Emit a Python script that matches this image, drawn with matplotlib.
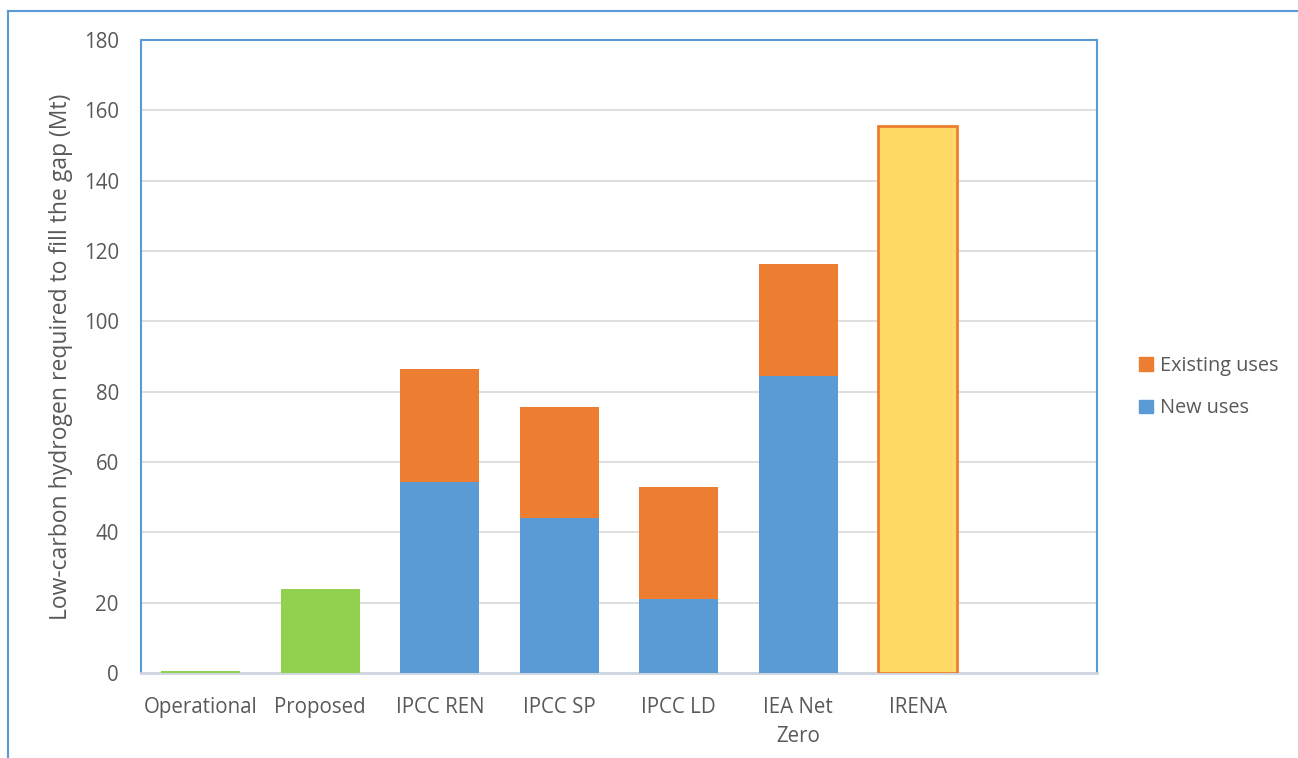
import numpy as np
import matplotlib
matplotlib.use("Agg")
import matplotlib.pyplot as plt
from matplotlib.lines import Line2D
from matplotlib.patches import Patch

plt.rcParams['font.family'] = ['Open Sans', 'DejaVu Sans']

categories = ['Operational', 'Proposed', 'IPCC REN', 'IPCC SP', 'IPCC LD',
              'IEA Net\nZero', 'IRENA']
# project pipeline (green)
pipeline = [0.7, 24.0, 0, 0, 0, 0, 0]
# scenario demand split
new_uses = [0, 0, 54.4, 44.0, 21.1, 84.5, 0]
existing_uses = [0, 0, 32.0, 31.5, 31.9, 31.8, 0]
# IRENA total only
irena_total = [0, 0, 0, 0, 0, 0, 155.5]

BLUE = '#5B9BD5'
ORANGE = '#ED7D31'
GREEN = '#92D050'
YELLOW = '#FFD966'
TXT = '#595959'

fig = plt.figure(figsize=(12.98, 7.58), dpi=100)
ax = fig.add_axes([141 / 1298, 1 - 673 / 758, (1097 - 141) / 1298, (673 - 40) / 758])

x = np.arange(len(categories))
w = 0.66
ax.bar(x, pipeline, w, color=GREEN, zorder=3)
ax.bar(x, new_uses, w, color=BLUE, zorder=3)
ax.bar(x, existing_uses, w, bottom=new_uses, color=ORANGE, zorder=3)
ax.bar(x[6], irena_total[6], w, color=YELLOW, edgecolor=ORANGE, linewidth=2, zorder=3)

ax.set_xlim(-0.5, 7.5)
ax.set_ylim(0, 180)
ax.set_yticks(np.arange(0, 181, 20))
ax.set_xticks(x)
ax.set_xticklabels(categories, fontsize=14.8, color=TXT, linespacing=1.5)
ax.tick_params(axis='y', labelsize=14.8, colors=TXT, length=0, pad=16)
ax.tick_params(axis='x', length=0, pad=17)
ax.grid(axis='y', color='#D9D9D9', linewidth=1.2, zorder=0)
ax.set_ylabel('Low-carbon hydrogen required to fill the gap (Mt)',
              fontsize=16.5, color=TXT, labelpad=8)

for s in ['left', 'top', 'right']:
    ax.spines[s].set_color(BLUE)
    ax.spines[s].set_linewidth(1.5)
ax.spines['bottom'].set_color('#CDD5DF')
ax.spines['bottom'].set_linewidth(2)

handles = [Patch(color=ORANGE, label='Existing uses'),
           Patch(color=BLUE, label='New uses')]
fig.legend(handles=handles, loc='center left',
           bbox_to_anchor=(1121 / 1298, 1 - 387 / 758), frameon=False,
           fontsize=14.3, handlelength=0.7, handleheight=0.7,
           handletextpad=0.35, labelspacing=1.15, labelcolor=TXT)

# outer chart frame (left and top edges)
fig.add_artist(Line2D([8 / 1298, 8 / 1298], [0, 1 - 11 / 758],
                      transform=fig.transFigure, color=BLUE, linewidth=1.5))
fig.add_artist(Line2D([8 / 1298, 1], [1 - 11 / 758, 1 - 11 / 758],
                      transform=fig.transFigure, color=BLUE, linewidth=1.5))

fig.savefig('out.png', dpi=100)
